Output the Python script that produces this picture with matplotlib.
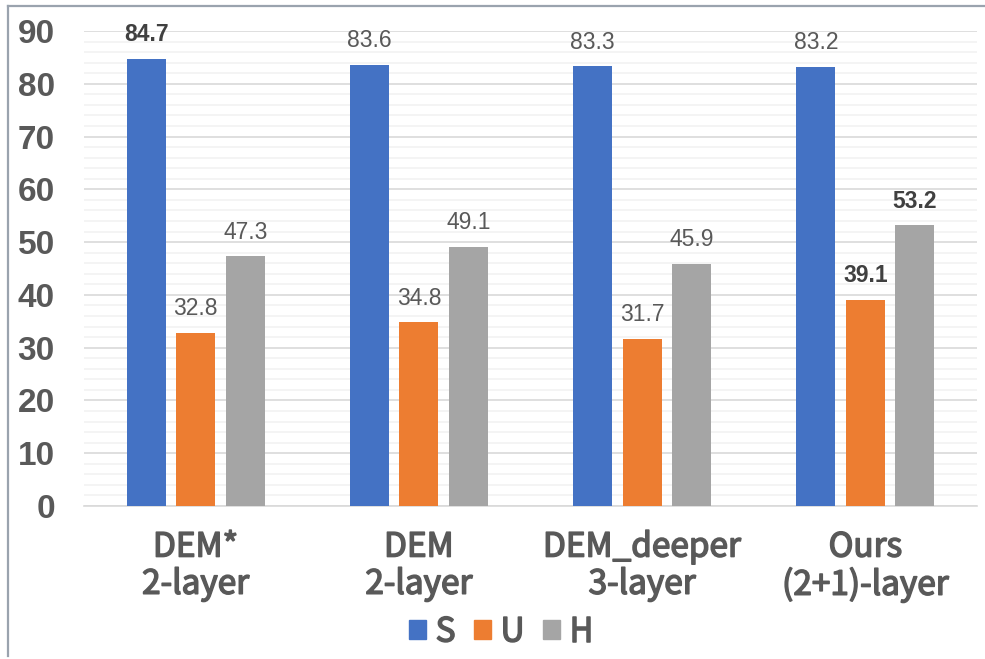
import numpy as np
import matplotlib.pyplot as plt
import matplotlib.patheffects as pe
from matplotlib.patches import Patch
from matplotlib.lines import Line2D

categories = ["DEM*\n2-layer", "DEM\n2-layer", "DEM_deeper\n3-layer", "Ours\n(2+1)-layer"]
series = ["S", "U", "H"]
s_vals = [84.7, 83.6, 83.3, 83.2]
u_vals = [32.8, 34.8, 31.7, 39.1]
h_vals = [47.3, 49.1, 45.9, 53.2]
# which value labels are bold (best per series)
bold_s = [True, False, False, False]
bold_u = [False, False, False, True]
bold_h = [False, False, False, True]

colors = ["#4472C4", "#ED7D31", "#A5A5A5"]
txt_gray = "#595959"
thick = [pe.withStroke(linewidth=1.1, foreground=txt_gray)]  # semi-bold look

fig = plt.figure(figsize=(9.85, 6.59), dpi=100)
ax = fig.add_axes([0.0853, 0.2322, 0.9919 - 0.0853, 0.953 - 0.2322])

x = np.arange(len(categories))
width = 0.175
step = 0.222
for i, (vals, bolds) in enumerate(zip([s_vals, u_vals, h_vals], [bold_s, bold_u, bold_h])):
    pos = x + (i - 1) * step
    ax.bar(pos, vals, width, color=colors[i], zorder=3)
    for p, v, b in zip(pos, vals, bolds):
        ax.annotate(f"{v:.1f}", (p, v), xytext=(0, 9), textcoords="offset points",
                    ha="center", va="bottom", fontsize=16.5, family="Liberation Sans",
                    fontweight="bold" if b else "normal",
                    color="#404040" if b else "#595959")

ax.set_xlim(-0.5, 3.5)
ax.set_ylim(0, 90)
ax.set_yticks(np.arange(0, 91, 10))
ax.set_yticks(np.arange(0, 91, 2), minor=True)
ax.grid(axis="y", which="major", color="#D9D9D9", linewidth=1.2, zorder=0)
ax.grid(axis="y", which="minor", color="#F2F2F2", linewidth=1.2, zorder=0)
for sp in ["top", "right", "left"]:
    ax.spines[sp].set_visible(False)
ax.spines["bottom"].set_color("#D9D9D9")
ax.spines["bottom"].set_linewidth(1.2)
ax.tick_params(axis="y", which="both", length=0, pad=21)
ax.tick_params(axis="x", length=0, pad=17)
for lab in ax.get_yticklabels():
    lab.set_family("Liberation Sans")
    lab.set_fontweight("bold")
    lab.set_fontsize(24)
    lab.set_color(txt_gray)
ax.set_xticks(x)
ax.set_xticklabels(categories, fontsize=24, color=txt_gray,
                   family="Noto Sans CJK SC", linespacing=1.08)
for lab in ax.get_xticklabels():
    lab.set_path_effects(thick)

handles = [Patch(color=c, label=s) for c, s in zip(colors, series)]
leg = fig.legend(handles=handles, loc="center", bbox_to_anchor=(0.509, 1 - 632 / 659),
                 ncol=3, frameon=False, handlelength=0.5, handleheight=0.5,
                 handletextpad=0.3, columnspacing=0.55,
                 prop={"family": "Noto Sans CJK SC", "size": 24})
for t in leg.get_texts():
    t.set_color(txt_gray)
    t.set_path_effects(thick)

# outer frame lines (left and top)
fig.add_artist(Line2D([8 / 985, 8 / 985], [0.004, 1 - 6 / 659], color="#9AA3AE", linewidth=1.6))
fig.add_artist(Line2D([8 / 985, 1.0], [1 - 6 / 659, 1 - 6 / 659], color="#9AA3AE", linewidth=1.6))

fig.savefig("out.png", dpi=100)
